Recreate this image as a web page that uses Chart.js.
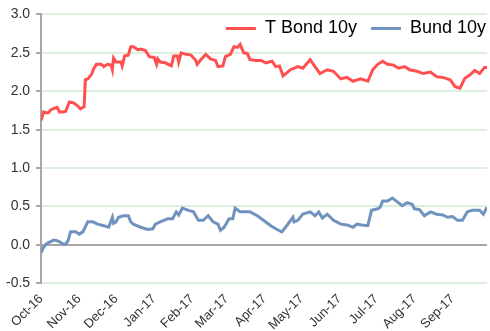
<!DOCTYPE html>
<html>
<head>
<meta charset="utf-8">
<script src="https://cdn.jsdelivr.net/npm/chart.js@4"></script>
<style>
  html, body { margin: 0; padding: 0; background: #fff; }
  #wrap { width: 490px; height: 331px; }
</style>
</head>
<body>
<div id="wrap"><canvas id="yields"></canvas></div>
<script>
// days since 1 Oct 2016
var monthDays = [0, 31, 61, 92, 123, 151, 182, 212, 243, 273, 304, 335];
var monthLabels = ["Oct-16", "Nov-16", "Dec-16", "Jan-17", "Feb-17", "Mar-17",
                   "Apr-17", "May-17", "Jun-17", "Jul-17", "Aug-17", "Sep-17"];

var tbondDays = [0, 2, 4, 6, 8, 11, 13, 15, 18, 20, 23, 26, 29, 32, 35, 36, 38, 41, 43, 45,
  49, 51, 54, 57, 58, 59, 61, 65, 66, 68, 71, 73, 75, 79, 81, 85, 88, 92, 94, 95,
  97, 101, 106, 108, 111, 112, 114, 118, 122, 126, 127, 130, 134, 138, 142, 144, 148, 150, 154, 157,
  160, 162, 165, 168, 170, 175, 179, 183, 188, 191, 194, 197, 203, 209, 213, 219, 223, 227, 233, 238,
  244, 249, 254, 260, 266, 270, 274, 278, 282, 287, 291, 296, 300, 306, 311, 317, 322, 327, 333, 337,
  341, 345, 349, 353, 357, 361, 363];
var tbondVals = [1.62, 1.73, 1.72, 1.72, 1.76, 1.78, 1.79, 1.73, 1.73, 1.74, 1.86, 1.85, 1.82, 1.77, 1.80, 2.15, 2.16, 2.22, 2.30, 2.35,
  2.35, 2.32, 2.35, 2.34, 2.28, 2.43, 2.38, 2.38, 2.33, 2.46, 2.47, 2.58, 2.58, 2.54, 2.55, 2.53, 2.45, 2.44, 2.35, 2.42,
  2.38, 2.37, 2.33, 2.46, 2.46, 2.38, 2.50, 2.48, 2.47, 2.40, 2.35, 2.41, 2.48, 2.42, 2.40, 2.32, 2.33, 2.45, 2.48, 2.58,
  2.57, 2.61, 2.50, 2.49, 2.41, 2.40, 2.40, 2.37, 2.39, 2.32, 2.33, 2.20, 2.28, 2.32, 2.30, 2.41, 2.32, 2.23, 2.28, 2.26,
  2.16, 2.18, 2.13, 2.16, 2.13, 2.28, 2.35, 2.39, 2.35, 2.34, 2.30, 2.32, 2.28, 2.26, 2.23, 2.25, 2.19, 2.18, 2.15, 2.06,
  2.04, 2.17, 2.21, 2.27, 2.23, 2.31, 2.31];

var bundDays = [0, 2, 4, 6, 10, 12, 15, 18, 20, 22, 24, 28, 31, 34, 38, 42, 46, 51, 55, 58,
  59, 61, 63, 67, 71, 73, 75, 81, 87, 91, 93, 97, 103, 107, 110, 112, 115, 120, 124, 128,
  132, 136, 140, 144, 146, 149, 153, 156, 158, 162, 168, 170, 176, 181, 187, 192, 196, 199, 205, 206,
  209, 213, 219, 223, 226, 229, 233, 238, 244, 249, 254, 257, 261, 266, 269, 274, 276, 278, 282, 286,
  290, 294, 298, 302, 304, 308, 312, 317, 322, 327, 331, 335, 339, 343, 347, 351, 357, 360, 363];
var bundVals = [-0.10, -0.03, 0.01, 0.03, 0.06, 0.06, 0.04, 0.01, 0.01, 0.06, 0.17, 0.17, 0.14, 0.17, 0.30, 0.30, 0.27, 0.25, 0.23, 0.36,
  0.28, 0.30, 0.36, 0.38, 0.38, 0.30, 0.27, 0.23, 0.20, 0.21, 0.27, 0.30, 0.34, 0.34, 0.43, 0.39, 0.48, 0.45, 0.43, 0.32,
  0.32, 0.38, 0.30, 0.27, 0.19, 0.23, 0.34, 0.34, 0.48, 0.43, 0.43, 0.43, 0.38, 0.32, 0.25, 0.20, 0.17, 0.23, 0.36, 0.30,
  0.32, 0.40, 0.43, 0.38, 0.43, 0.35, 0.40, 0.32, 0.27, 0.26, 0.23, 0.27, 0.26, 0.25, 0.45, 0.47, 0.49, 0.57, 0.57, 0.61,
  0.56, 0.51, 0.55, 0.53, 0.47, 0.46, 0.38, 0.43, 0.40, 0.39, 0.36, 0.37, 0.32, 0.32, 0.43, 0.45, 0.45, 0.40, 0.49];

function pairs(days, vals) {
  return days.map(function (d, i) { return { x: d, y: vals[i] }; });
}

// legend floats over the top of the plot: it takes no layout height,
// then gets its real box back (nudged up/right) once the chart area is settled
var floatLegend = {
  id: 'floatLegend',
  beforeLayout: function (chart) {
    var lg = chart.legend;
    if (lg && !lg._floatPatched) {
      var origFit = lg.fit;
      lg.fit = function () {
        origFit.call(this);
        this._realHeight = this.height;
        this.height = 0;
      };
      lg._floatPatched = true;
    }
  },
  afterLayout: function (chart) {
    var lg = chart.legend;
    if (lg && lg._realHeight) {
      lg.top -= 9;
      lg.height = lg._realHeight;
      lg.bottom = lg.top + lg._realHeight;
      lg.left += 13;
      lg.right += 13;
    }
  }
};

var ctx = document.getElementById("yields").getContext('2d');
var yieldChart = new Chart(ctx, {
  type: 'line',
  plugins: [floatLegend],
  data: {
    datasets: [{
      label: "T Bond 10y",
      data: pairs(tbondDays, tbondVals),
      borderColor: "#FF5050",
      backgroundColor: "#FF5050",
      borderWidth: 3,
      pointRadius: 0,
      tension: 0
    }, {
      label: "Bund 10y",
      data: pairs(bundDays, bundVals),
      borderColor: "#7092BE",
      backgroundColor: "#7092BE",
      borderWidth: 3,
      pointRadius: 0,
      tension: 0
    }]
  },
  options: {
    responsive: true,
    maintainAspectRatio: false,
    animation: false,
    layout: { padding: { top: 6, right: 3, left: 0, bottom: -2 } },
    plugins: {
      tooltip: { enabled: false },
      legend: {
        position: 'top',
        align: 'end',
        labels: {
          boxWidth: 30,
          boxHeight: 3,
          padding: 14,
          color: '#000',
          font: { family: 'Liberation Sans', size: 18 },
          generateLabels: function (chart) {
            var items = Chart.defaults.plugins.legend.labels.generateLabels(chart);
            items.forEach(function (it) { it.lineWidth = 0; });
            return items;
          }
        }
      }
    },
    scales: {
      x: {
        type: 'linear',
        min: 0,
        max: 363,
        afterBuildTicks: function (axis) {
          axis.ticks = monthDays.map(function (d) { return { value: d }; });
        },
        ticks: {
          autoSkip: false,
          maxRotation: 45,
          minRotation: 45,
          padding: 0,
          color: '#333',
          font: { family: 'Liberation Sans', size: 13 },
          callback: function (v) {
            var i = monthDays.indexOf(v);
            return i >= 0 ? monthLabels[i] : '';
          }
        },
        grid: { display: false },
        border: { display: false }
      },
      y: {
        min: -0.5,
        max: 3.0,
        ticks: {
          stepSize: 0.5,
          color: '#333',
          padding: 6,
          font: { family: 'Liberation Sans', size: 14 },
          callback: function (v) { return v.toFixed(1); }
        },
        grid: {
          color: function (c) { return c.tick && c.tick.value === 0 ? '#A6A6A6' : '#DDF0DD'; },
          lineWidth: 2,
          tickColor: '#A6A6A6',
          tickLength: 5
        },
        border: { display: true, color: '#A6A6A6', width: 2 }
      }
    }
  }
});
</script>
</body>
</html>
